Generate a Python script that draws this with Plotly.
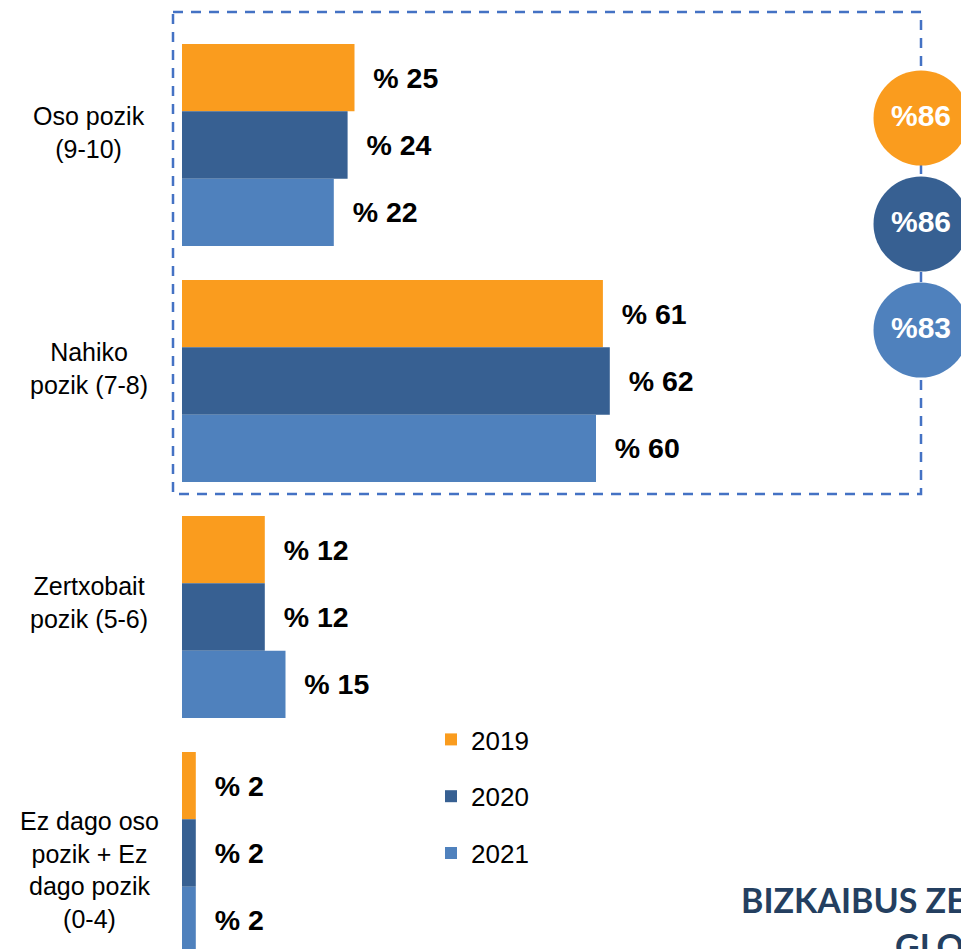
import plotly.graph_objects as go

categories = ["Oso pozik<br>(9-10)", "Nahiko<br>pozik (7-8)", "Zertxobait<br>pozik (5-6)",
              "Ez dago oso<br>pozik + Ez<br>dago pozik<br>(0-4)"]
years = ["2019", "2020", "2021"]
values_2019 = [25, 61, 12, 2]
values_2020 = [24, 62, 12, 2]
values_2021 = [22, 60, 15, 2]
totals_satisfied = [86, 86, 83]  # Oso pozik + Nahiko pozik
colors = ["#FA9C1E", "#376092", "#4F81BD"]
title_lines = ["BIZKAIBUS ZERBITZUAREKIKO GOGOBETETZE", "GLOBALA"]

series = [values_2019, values_2020, values_2021]
ypos = list(range(len(categories)))

# layout helpers: the page body has an 8px margin, so reference pixel
# positions are shifted by OFF inside the figure
OFF = 8
W, H = 969 - OFF, 949 - OFF
PX_PER_UNIT_X = 6.9
X0_PX = 182 - OFF
PX_PER_CAT = 236
Y0_PX = 145 - OFF
x_range = [-X0_PX / PX_PER_UNIT_X, (W - X0_PX) / PX_PER_UNIT_X]
y_range = [(H - Y0_PX) / PX_PER_CAT, -Y0_PX / PX_PER_CAT]


def xd(px):
    return (px - OFF - X0_PX) / PX_PER_UNIT_X


def yd(py):
    return (py - OFF - Y0_PX) / PX_PER_CAT


fig = go.Figure()
for name, vals, col in zip(years, series, colors):
    fig.add_trace(go.Bar(
        y=ypos, x=vals, name=name, orientation="h",
        marker=dict(color=col, line=dict(width=0)),
        text=vals, texttemplate="\u00a0\u00a0% %{x}", textposition="outside",
        textfont=dict(family="Liberation Sans, Arial", size=28.5, color="#000000", weight="bold"),
        constraintext="none", cliponaxis=False,
        legendgroup=name, hoverinfo="skip",
    ))

# circles with totals
circle_y = [yd(118), yd(224), yd(330)]
fig.add_trace(go.Scatter(
    x=[xd(921)] * 3, y=circle_y, mode="markers+text",
    marker=dict(size=95, color=colors, line=dict(width=0)),
    text=["%" + str(v) for v in totals_satisfied],
    textposition="middle center",
    textfont=dict(family="Liberation Sans, Arial", size=30, color="#FFFFFF", weight="bold"),
    showlegend=False, cliponaxis=False, hoverinfo="skip",
))

shapes = [dict(
    type="rect", xref="x", yref="y",
    x0=xd(173), x1=xd(921), y0=yd(12), y1=yd(494),
    line=dict(color="#4472C4", width=2.5, dash="10px,8px"),
    layer="below",
)]

label_up = [13, 13, 15, -17]
annotations = []
for i, (cat, up) in enumerate(zip(categories, label_up)):
    annotations.append(dict(
        x=xd(89), y=i, xref="x", yref="y", text=cat, showarrow=False,
        xanchor="center", yanchor="middle", align="center", yshift=up,
        font=dict(family="Liberation Sans, Arial", size=25, color="#000000"),
    ))

annotations.append(dict(
    x=(739 - OFF) / W, y=1 - (899 - OFF) / H, xref="paper", yref="paper",
    text="<b>" + title_lines[0] + "</b>",
    showarrow=False, xanchor="left", yanchor="middle",
    font=dict(family="Lato", size=34, color="#243F60"),
))
annotations.append(dict(
    x=(893 - OFF) / W, y=1 - (945 - OFF) / H, xref="paper", yref="paper",
    text="<b>" + title_lines[1] + "</b>",
    showarrow=False, xanchor="left", yanchor="middle",
    font=dict(family="Lato", size=34, color="#243F60"),
))

fig.update_layout(
    width=W, height=H,
    margin=dict(l=0, r=0, t=0, b=0),
    paper_bgcolor="white", plot_bgcolor="white",
    barmode="group", bargap=0.144, bargroupgap=0,
    xaxis=dict(range=x_range, visible=False, fixedrange=True),
    yaxis=dict(range=y_range, visible=False, fixedrange=True),
    showlegend=True,
    legend=dict(
        x=(431 - OFF) / W, y=1 - (716 - OFF) / H, xanchor="left", yanchor="top",
        traceorder="grouped", tracegroupgap=20,
        font=dict(family="Liberation Sans, Arial", size=26, color="#000000"),
        bgcolor="rgba(0,0,0,0)",
    ),
    shapes=shapes, annotations=annotations,
)

fig.write_html("out.html")
